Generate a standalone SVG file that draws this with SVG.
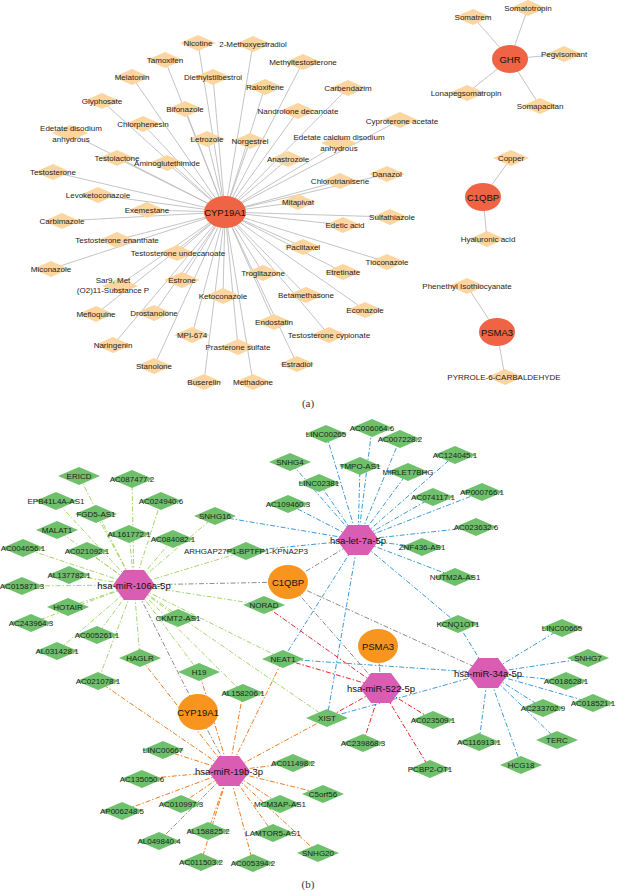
<svg xmlns="http://www.w3.org/2000/svg" width="618" height="893" viewBox="0 0 618 893">
<defs>
<style>
.ea{stroke:#BDBDBD;stroke-width:0.9}
.da{fill:#FDD59F}
.t{font-family:"Liberation Sans",Arial,sans-serif;font-size:8px;fill:#1e1e1e;text-anchor:middle;dominant-baseline:central}
.th{font-family:"Liberation Sans",Arial,sans-serif;font-size:9.5px;fill:#111;text-anchor:middle;dominant-baseline:central}
.hr{fill:#EE6445}
.eb line{stroke-width:1;fill:none;stroke-dasharray:5 2 1.5 2}
.g{stroke:#A5D86B}
.b{stroke:#3D9AD8}
.r{stroke:#E6242B}
.o{stroke:#F07C24}
.k{stroke:#8C8C8C}
.gd{fill:#6EC06B}
.hx{fill:#D95DB2}
.oe{fill:#F7951F}
.cap{font-family:"Liberation Serif","Times New Roman",serif;font-size:11px;fill:#333;text-anchor:middle}
</style>
<path id="da" d="M-18 0L0-8L18 0L0 8Z"/>
<path id="dg" d="M-21 0L0-9L21 0L0 9Z"/>
<path id="hex" d="M-21 0L-10-15L10-15L21 0L10 15L-10 15Z"/>
</defs>
<rect width="618" height="893" fill="#fff"/>

<!-- ===== Panel (a) connectors ===== -->
<g id="edges-a" class="ea">
<line x1="225" y1="212" x2="198" y2="43"/>
<line x1="225" y1="212" x2="253" y2="44"/>
<line x1="225" y1="212" x2="165" y2="60"/>
<line x1="225" y1="212" x2="303" y2="62"/>
<line x1="225" y1="212" x2="132" y2="77"/>
<line x1="225" y1="212" x2="213" y2="77"/>
<line x1="225" y1="212" x2="265" y2="87"/>
<line x1="225" y1="212" x2="348" y2="88"/>
<line x1="225" y1="212" x2="102" y2="101"/>
<line x1="225" y1="212" x2="185" y2="109"/>
<line x1="225" y1="212" x2="298" y2="111"/>
<line x1="225" y1="212" x2="400" y2="120"/>
<line x1="225" y1="212" x2="143" y2="124"/>
<line x1="225" y1="212" x2="70" y2="133"/>
<line x1="225" y1="212" x2="207" y2="139"/>
<line x1="225" y1="212" x2="250" y2="141"/>
<line x1="225" y1="212" x2="339" y2="143"/>
<line x1="225" y1="212" x2="117" y2="158"/>
<line x1="225" y1="212" x2="288" y2="159"/>
<line x1="225" y1="212" x2="167" y2="163"/>
<line x1="225" y1="212" x2="53" y2="172"/>
<line x1="225" y1="212" x2="387" y2="174"/>
<line x1="225" y1="212" x2="340" y2="181"/>
<line x1="225" y1="212" x2="98" y2="195"/>
<line x1="225" y1="212" x2="298" y2="202"/>
<line x1="225" y1="212" x2="147" y2="210"/>
<line x1="225" y1="212" x2="390" y2="217"/>
<line x1="225" y1="212" x2="62" y2="221"/>
<line x1="225" y1="212" x2="343" y2="225"/>
<line x1="225" y1="212" x2="117" y2="240"/>
<line x1="225" y1="212" x2="303" y2="247"/>
<line x1="225" y1="212" x2="177" y2="253"/>
<line x1="225" y1="212" x2="387" y2="262"/>
<line x1="225" y1="212" x2="51" y2="269"/>
<line x1="225" y1="212" x2="343" y2="272"/>
<line x1="225" y1="212" x2="263" y2="273"/>
<line x1="225" y1="212" x2="182" y2="280"/>
<line x1="225" y1="212" x2="118" y2="286"/>
<line x1="225" y1="212" x2="306" y2="295"/>
<line x1="225" y1="212" x2="223" y2="296"/>
<line x1="225" y1="212" x2="365" y2="310"/>
<line x1="225" y1="212" x2="154" y2="313"/>
<line x1="225" y1="212" x2="96" y2="314"/>
<line x1="225" y1="212" x2="274" y2="322"/>
<line x1="225" y1="212" x2="192" y2="335"/>
<line x1="225" y1="212" x2="329" y2="335"/>
<line x1="225" y1="212" x2="113" y2="345"/>
<line x1="225" y1="212" x2="238" y2="347"/>
<line x1="225" y1="212" x2="297" y2="364"/>
<line x1="225" y1="212" x2="154" y2="366"/>
<line x1="225" y1="212" x2="204" y2="382"/>
<line x1="225" y1="212" x2="253" y2="382"/>
<line x1="510" y1="59" x2="473" y2="17"/>
<line x1="510" y1="59" x2="528" y2="8"/>
<line x1="510" y1="59" x2="564" y2="54"/>
<line x1="510" y1="59" x2="467" y2="93"/>
<line x1="510" y1="59" x2="540" y2="106"/>
<line x1="483" y1="197" x2="511" y2="158"/>
<line x1="483" y1="197" x2="487" y2="239"/>
<line x1="497" y1="332" x2="467" y2="286"/>
<line x1="497" y1="332" x2="505" y2="377"/>
</g>

<!-- ===== Panel (a) nodes ===== -->
<g id="a-drugs">
<g id="a-Nicotine"><use href="#da" class="da" x="198" y="43"/><text class="t" x="198" y="43">Nicotine</text></g>
<g id="a-2-Methoxyestradiol"><use href="#da" class="da" x="253" y="44"/><text class="t" x="253" y="44">2-Methoxyestradiol</text></g>
<g id="a-Tamoxifen"><use href="#da" class="da" x="165" y="60"/><text class="t" x="165" y="60">Tamoxifen</text></g>
<g id="a-Methyltestosterone"><use href="#da" class="da" x="303" y="62"/><text class="t" x="303" y="62">Methyltestosterone</text></g>
<g id="a-Melatonin"><use href="#da" class="da" x="132" y="77"/><text class="t" x="132" y="77">Melatonin</text></g>
<g id="a-Diethylstilbestrol"><use href="#da" class="da" x="213" y="77"/><text class="t" x="213" y="77">Diethylstilbestrol</text></g>
<g id="a-Raloxifene"><use href="#da" class="da" x="265" y="87"/><text class="t" x="265" y="87">Raloxifene</text></g>
<g id="a-Carbendazim"><use href="#da" class="da" x="348" y="88"/><text class="t" x="348" y="88">Carbendazim</text></g>
<g id="a-Glyphosate"><use href="#da" class="da" x="102" y="101"/><text class="t" x="102" y="101">Glyphosate</text></g>
<g id="a-Bifonazole"><use href="#da" class="da" x="185" y="109"/><text class="t" x="185" y="109">Bifonazole</text></g>
<g id="a-Nandrolone"><use href="#da" class="da" x="298" y="111"/><text class="t" x="298" y="111">Nandrolone decanoate</text></g>
<g id="a-Cyproterone"><use href="#da" class="da" x="400" y="120"/><text class="t" x="402" y="121">Cyproterone acetate</text></g>
<g id="a-Chlorphenesin"><use href="#da" class="da" x="143" y="124"/><text class="t" x="143" y="124">Chlorphenesin</text></g>
<g id="a-EdetateDisodium"><use href="#da" class="da" x="70" y="133"/><text class="t" x="71" y="128">Edetate disodium</text><text class="t" x="71" y="139">anhydrous</text></g>
<g id="a-Letrozole"><use href="#da" class="da" x="207" y="139"/><text class="t" x="207" y="139">Letrozole</text></g>
<g id="a-Norgestrel"><use href="#da" class="da" x="250" y="141"/><text class="t" x="250" y="141">Norgestrel</text></g>
<g id="a-EdetateCalcium"><use href="#da" class="da" x="339" y="143"/><text class="t" x="339" y="137">Edetate calcium disodium</text><text class="t" x="339" y="148">anhydrous</text></g>
<g id="a-Testolactone"><use href="#da" class="da" x="117" y="158"/><text class="t" x="117" y="158">Testolactone</text></g>
<g id="a-Anastrozole"><use href="#da" class="da" x="288" y="159"/><text class="t" x="288" y="159">Anastrozole</text></g>
<g id="a-Aminoglutethimide"><use href="#da" class="da" x="167" y="163"/><text class="t" x="167" y="163">Aminoglutethimide</text></g>
<g id="a-Testosterone"><use href="#da" class="da" x="53" y="172"/><text class="t" x="53" y="172">Testosterone</text></g>
<g id="a-Danazol"><use href="#da" class="da" x="387" y="174"/><text class="t" x="387" y="174">Danazol</text></g>
<g id="a-Chlorotrianisene"><use href="#da" class="da" x="340" y="181"/><text class="t" x="340" y="181">Chlorotrianisene</text></g>
<g id="a-Levoketoconazole"><use href="#da" class="da" x="98" y="195"/><text class="t" x="98" y="195">Levoketoconazole</text></g>
<g id="a-Mitapivat"><use href="#da" class="da" x="298" y="202"/><text class="t" x="298" y="202">Mitapivat</text></g>
<g id="a-Exemestane"><use href="#da" class="da" x="147" y="210"/><text class="t" x="147" y="210">Exemestane</text></g>
<g id="a-Sulfathiazole"><use href="#da" class="da" x="390" y="217"/><text class="t" x="392" y="217">Sulfathiazole</text></g>
<g id="a-Carbimazole"><use href="#da" class="da" x="62" y="221"/><text class="t" x="62" y="221">Carbimazole</text></g>
<g id="a-EdeticAcid"><use href="#da" class="da" x="343" y="225"/><text class="t" x="345" y="225">Edetic acid</text></g>
<g id="a-TestosteroneEnanthate"><use href="#da" class="da" x="117" y="240"/><text class="t" x="117" y="240">Testosterone enanthate</text></g>
<g id="a-Paclitaxel"><use href="#da" class="da" x="303" y="247"/><text class="t" x="303" y="247">Paclitaxel</text></g>
<g id="a-TestosteroneUndecanoate"><use href="#da" class="da" x="177" y="253"/><text class="t" x="178" y="253">Testosterone undecanoate</text></g>
<g id="a-Tioconazole"><use href="#da" class="da" x="387" y="262"/><text class="t" x="387" y="262">Tioconazole</text></g>
<g id="a-Miconazole"><use href="#da" class="da" x="51" y="269"/><text class="t" x="51" y="269">Miconazole</text></g>
<g id="a-Etretinate"><use href="#da" class="da" x="343" y="272"/><text class="t" x="343" y="272">Etretinate</text></g>
<g id="a-Troglitazone"><use href="#da" class="da" x="263" y="273"/><text class="t" x="263" y="273">Troglitazone</text></g>
<g id="a-Estrone"><use href="#da" class="da" x="182" y="280"/><text class="t" x="182" y="280">Estrone</text></g>
<g id="a-Sar9"><use href="#da" class="da" x="120" y="286"/><text class="t" x="113" y="280">Sar9, Met</text><text class="t" x="113" y="290">(O2)11-Substance P</text></g>
<g id="a-Betamethasone"><use href="#da" class="da" x="306" y="295"/><text class="t" x="306" y="295">Betamethasone</text></g>
<g id="a-Ketoconazole"><use href="#da" class="da" x="223" y="296"/><text class="t" x="223" y="296">Ketoconazole</text></g>
<g id="a-Econazole"><use href="#da" class="da" x="365" y="310"/><text class="t" x="365" y="310">Econazole</text></g>
<g id="a-Drostanolone"><use href="#da" class="da" x="154" y="313"/><text class="t" x="154" y="313">Drostanolone</text></g>
<g id="a-Mefloquine"><use href="#da" class="da" x="96" y="314"/><text class="t" x="96" y="314">Mefloquine</text></g>
<g id="a-Endostatin"><use href="#da" class="da" x="274" y="322"/><text class="t" x="274" y="322">Endostatin</text></g>
<g id="a-MPI-674"><use href="#da" class="da" x="192" y="335"/><text class="t" x="192" y="335">MPI-674</text></g>
<g id="a-TestosteroneCypionate"><use href="#da" class="da" x="329" y="335"/><text class="t" x="329" y="335">Testosterone cypionate</text></g>
<g id="a-Naringenin"><use href="#da" class="da" x="113" y="345"/><text class="t" x="113" y="345">Naringenin</text></g>
<g id="a-Prasterone"><use href="#da" class="da" x="238" y="347"/><text class="t" x="238" y="347">Prasterone sulfate</text></g>
<g id="a-Estradiol"><use href="#da" class="da" x="297" y="364"/><text class="t" x="297" y="364">Estradiol</text></g>
<g id="a-Stanolone"><use href="#da" class="da" x="154" y="366"/><text class="t" x="154" y="366">Stanolone</text></g>
<g id="a-Buserelin"><use href="#da" class="da" x="204" y="382"/><text class="t" x="204" y="382">Buserelin</text></g>
<g id="a-Methadone"><use href="#da" class="da" x="253" y="382"/><text class="t" x="253" y="382">Methadone</text></g>
<g id="a-Somatrem"><use href="#da" class="da" x="473" y="17"/><text class="t" x="473" y="17">Somatrem</text></g>
<g id="a-Somatotropin"><use href="#da" class="da" x="528" y="8"/><text class="t" x="528" y="8">Somatotropin</text></g>
<g id="a-Pegvisomant"><use href="#da" class="da" x="564" y="54"/><text class="t" x="564" y="54">Pegvisomant</text></g>
<g id="a-Lonapegsomatropin"><use href="#da" class="da" x="467" y="93"/><text class="t" x="466" y="93">Lonapegsomatropin</text></g>
<g id="a-Somapacitan"><use href="#da" class="da" x="540" y="106"/><text class="t" x="540" y="106">Somapacitan</text></g>
<g id="a-Copper"><use href="#da" class="da" x="511" y="158"/><text class="t" x="511" y="158">Copper</text></g>
<g id="a-Hyaluronic"><use href="#da" class="da" x="487" y="239"/><text class="t" x="488" y="239">Hyaluronic acid</text></g>
<g id="a-Phenethyl"><use href="#da" class="da" x="467" y="286"/><text class="t" x="467" y="286">Phenethyl Isothiocyanate</text></g>
<g id="a-Pyrrole"><use href="#da" class="da" x="505" y="377"/><text class="t" x="504" y="377">PYRROLE-6-CARBALDEHYDE</text></g>
</g>
<g id="a-hubs">
<g id="a-CYP19A1"><ellipse class="hr" cx="225" cy="212" rx="21" ry="16"/><text class="th" x="225" y="212">CYP19A1</text></g>
<g id="a-GHR"><ellipse class="hr" cx="510" cy="59" rx="18" ry="14"/><text class="th" x="510" y="59">GHR</text></g>
<g id="a-C1QBP"><ellipse class="hr" cx="483" cy="197" rx="18" ry="14"/><text class="th" x="483" y="197">C1QBP</text></g>
<g id="a-PSMA3"><ellipse class="hr" cx="497" cy="332" rx="18" ry="14"/><text class="th" x="497" y="332">PSMA3</text></g>
</g>
<text class="cap" x="308" y="407">(a)</text>

<!-- ===== Panel (b) connectors ===== -->
<g id="edges-b" class="eb">
<g class="g">
<line x1="134" y1="585" x2="79" y2="476"/>
<line x1="134" y1="585" x2="132" y2="479"/>
<line x1="134" y1="585" x2="56" y2="501"/>
<line x1="134" y1="585" x2="161" y2="501"/>
<line x1="134" y1="585" x2="96" y2="514"/>
<line x1="134" y1="585" x2="57" y2="530"/>
<line x1="134" y1="585" x2="129" y2="534"/>
<line x1="134" y1="585" x2="173" y2="539"/>
<line x1="134" y1="585" x2="23" y2="548"/>
<line x1="134" y1="585" x2="87" y2="551"/>
<line x1="134" y1="585" x2="69" y2="575"/>
<line x1="134" y1="585" x2="22" y2="586"/>
<line x1="134" y1="585" x2="68" y2="607"/>
<line x1="134" y1="585" x2="31" y2="623"/>
<line x1="134" y1="585" x2="178" y2="618"/>
<line x1="134" y1="585" x2="97" y2="635"/>
<line x1="134" y1="585" x2="57" y2="651"/>
<line x1="134" y1="585" x2="140" y2="658"/>
<line x1="134" y1="585" x2="199" y2="672"/>
<line x1="134" y1="585" x2="98" y2="681"/>
<line x1="134" y1="585" x2="243" y2="693"/>
<line x1="134" y1="585" x2="215" y2="516"/>
<line x1="134" y1="585" x2="246" y2="551"/>
<line x1="134" y1="585" x2="264" y2="605"/>
<line x1="134" y1="585" x2="283" y2="659"/>
<line x1="134" y1="585" x2="327" y2="718"/>
</g>
<g class="b">
<line x1="358" y1="540" x2="326" y2="434"/>
<line x1="358" y1="540" x2="372" y2="428"/>
<line x1="358" y1="540" x2="400" y2="439"/>
<line x1="358" y1="540" x2="455" y2="455"/>
<line x1="358" y1="540" x2="290" y2="462"/>
<line x1="358" y1="540" x2="360" y2="466"/>
<line x1="358" y1="540" x2="408" y2="472"/>
<line x1="358" y1="540" x2="319" y2="483"/>
<line x1="358" y1="540" x2="433" y2="497"/>
<line x1="358" y1="540" x2="482" y2="492"/>
<line x1="358" y1="540" x2="288" y2="504"/>
<line x1="358" y1="540" x2="476" y2="527"/>
<line x1="358" y1="540" x2="422" y2="547"/>
<line x1="358" y1="540" x2="455" y2="577"/>
<line x1="358" y1="540" x2="458" y2="624"/>
<line x1="358" y1="540" x2="215" y2="516"/>
<line x1="358" y1="540" x2="246" y2="551"/>
<line x1="358" y1="540" x2="283" y2="659"/>
<line x1="358" y1="540" x2="327" y2="718"/>
<line x1="488" y1="673" x2="562" y2="628"/>
<line x1="488" y1="673" x2="588" y2="658"/>
<line x1="488" y1="673" x2="566" y2="681"/>
<line x1="488" y1="673" x2="593" y2="703"/>
<line x1="488" y1="673" x2="543" y2="708"/>
<line x1="488" y1="673" x2="557" y2="740"/>
<line x1="488" y1="673" x2="521" y2="765"/>
<line x1="488" y1="673" x2="479" y2="742"/>
<line x1="488" y1="673" x2="458" y2="624"/>
<line x1="488" y1="673" x2="283" y2="659"/>
<line x1="488" y1="673" x2="327" y2="718"/>
</g>
<g class="r">
<line x1="381" y1="688" x2="264" y2="605"/>
<line x1="381" y1="688" x2="283" y2="659"/>
<line x1="381" y1="688" x2="327" y2="718"/>
<line x1="381" y1="688" x2="363" y2="743"/>
<line x1="381" y1="688" x2="433" y2="720"/>
<line x1="381" y1="688" x2="430" y2="769"/>
</g>
<g class="o">
<line x1="229" y1="771" x2="98" y2="681"/>
<line x1="229" y1="771" x2="140" y2="658"/>
<line x1="229" y1="771" x2="199" y2="672"/>
<line x1="229" y1="771" x2="243" y2="693"/>
<line x1="229" y1="771" x2="283" y2="659"/>
<line x1="229" y1="771" x2="327" y2="718"/>
<line x1="229" y1="771" x2="163" y2="750"/>
<line x1="229" y1="771" x2="142" y2="779"/>
<line x1="229" y1="771" x2="122" y2="811"/>
<line x1="229" y1="771" x2="181" y2="804"/>
<line x1="229" y1="771" x2="159" y2="841"/>
<line x1="229" y1="771" x2="208" y2="831"/>
<line x1="229" y1="771" x2="201" y2="862"/>
<line x1="229" y1="771" x2="253" y2="863"/>
<line x1="229" y1="771" x2="273" y2="833"/>
<line x1="229" y1="771" x2="318" y2="853"/>
<line x1="229" y1="771" x2="280" y2="804"/>
<line x1="229" y1="771" x2="323" y2="794"/>
<line x1="229" y1="771" x2="293" y2="763"/>
</g>
<g class="k">
<line x1="288" y1="582" x2="134" y2="585"/>
<line x1="288" y1="582" x2="358" y2="540"/>
<line x1="288" y1="582" x2="381" y2="688"/>
<line x1="288" y1="582" x2="488" y2="673"/>
<line x1="378" y1="646" x2="381" y2="688"/>
<line x1="198" y1="712" x2="134" y2="585"/>
<line x1="198" y1="712" x2="229" y2="771"/>
</g>
</g>

<!-- ===== Panel (b) lncRNA nodes ===== -->
<g id="b-lnc">
<g id="b-ERICD"><use href="#dg" class="gd" x="79" y="476"/><text class="t" x="79" y="476">ERICD</text></g>
<g id="b-AC087477.2"><use href="#dg" class="gd" x="132" y="479"/><text class="t" x="132" y="479">AC087477.2</text></g>
<g id="b-EPB41L4A-AS1"><use href="#dg" class="gd" x="56" y="501"/><text class="t" x="56" y="501">EPB41L4A-AS1</text></g>
<g id="b-AC024940.6"><use href="#dg" class="gd" x="161" y="501"/><text class="t" x="161" y="501">AC024940.6</text></g>
<g id="b-FGD5-AS1"><use href="#dg" class="gd" x="96" y="514"/><text class="t" x="96" y="514">FGD5-AS1</text></g>
<g id="b-MALAT1"><use href="#dg" class="gd" x="57" y="530"/><text class="t" x="57" y="530">MALAT1</text></g>
<g id="b-AL161772.1"><use href="#dg" class="gd" x="129" y="534"/><text class="t" x="129" y="534">AL161772.1</text></g>
<g id="b-AC084082.1"><use href="#dg" class="gd" x="173" y="539"/><text class="t" x="173" y="539">AC084082.1</text></g>
<g id="b-AC004656.1"><use href="#dg" class="gd" x="23" y="548"/><text class="t" x="23" y="548">AC004656.1</text></g>
<g id="b-AC021092.1"><use href="#dg" class="gd" x="87" y="551"/><text class="t" x="87" y="551">AC021092.1</text></g>
<g id="b-AL137782.1"><use href="#dg" class="gd" x="69" y="575"/><text class="t" x="69" y="575">AL137782.1</text></g>
<g id="b-AC015871.3"><use href="#dg" class="gd" x="22" y="586"/><text class="t" x="22" y="586">AC015871.3</text></g>
<g id="b-HOTAIR"><use href="#dg" class="gd" x="68" y="607"/><text class="t" x="68" y="607">HOTAIR</text></g>
<g id="b-AC243964.3"><use href="#dg" class="gd" x="31" y="623"/><text class="t" x="31" y="623">AC243964.3</text></g>
<g id="b-CKMT2-AS1"><use href="#dg" class="gd" x="178" y="618"/><text class="t" x="178" y="618">CKMT2-AS1</text></g>
<g id="b-AC005261.1"><use href="#dg" class="gd" x="97" y="635"/><text class="t" x="97" y="635">AC005261.1</text></g>
<g id="b-AL031428.1"><use href="#dg" class="gd" x="57" y="651"/><text class="t" x="57" y="651">AL031428.1</text></g>
<g id="b-HAGLR"><use href="#dg" class="gd" x="140" y="658"/><text class="t" x="140" y="658">HAGLR</text></g>
<g id="b-H19"><use href="#dg" class="gd" x="199" y="672"/><text class="t" x="199" y="672">H19</text></g>
<g id="b-AC021078.1"><use href="#dg" class="gd" x="98" y="681"/><text class="t" x="98" y="681">AC021078.1</text></g>
<g id="b-AL158206.1"><use href="#dg" class="gd" x="243" y="693"/><text class="t" x="243" y="693">AL158206.1</text></g>
<g id="b-SNHG16"><use href="#dg" class="gd" x="215" y="516"/><text class="t" x="215" y="516">SNHG16</text></g>
<g id="b-ARHGAP27P1"><use href="#dg" class="gd" x="246" y="551"/><text class="t" x="246" y="551">ARHGAP27P1-BPTFP1-KPNA2P3</text></g>
<g id="b-NORAD"><use href="#dg" class="gd" x="264" y="605"/><text class="t" x="264" y="605">NORAD</text></g>
<g id="b-NEAT1"><use href="#dg" class="gd" x="283" y="659"/><text class="t" x="283" y="659">NEAT1</text></g>
<g id="b-XIST"><use href="#dg" class="gd" x="327" y="718"/><text class="t" x="327" y="718">XIST</text></g>
<g id="b-AC239868.3"><use href="#dg" class="gd" x="363" y="743"/><text class="t" x="363" y="743">AC239868.3</text></g>
<g id="b-AC023509.1"><use href="#dg" class="gd" x="433" y="720"/><text class="t" x="433" y="720">AC023509.1</text></g>
<g id="b-PCBP2-OT1"><use href="#dg" class="gd" x="430" y="769"/><text class="t" x="430" y="769">PCBP2-OT1</text></g>
<g id="b-LINC00265"><use href="#dg" class="gd" x="326" y="434"/><text class="t" x="326" y="434">LINC00265</text></g>
<g id="b-AC006064.6"><use href="#dg" class="gd" x="372" y="428"/><text class="t" x="372" y="428">AC006064.6</text></g>
<g id="b-AC007228.2"><use href="#dg" class="gd" x="400" y="439"/><text class="t" x="400" y="439">AC007228.2</text></g>
<g id="b-AC124045.1"><use href="#dg" class="gd" x="455" y="455"/><text class="t" x="455" y="455">AC124045.1</text></g>
<g id="b-SNHG4"><use href="#dg" class="gd" x="290" y="462"/><text class="t" x="290" y="462">SNHG4</text></g>
<g id="b-TMPO-AS1"><use href="#dg" class="gd" x="360" y="466"/><text class="t" x="360" y="466">TMPO-AS1</text></g>
<g id="b-MIRLET7BHG"><use href="#dg" class="gd" x="408" y="472"/><text class="t" x="408" y="472">MIRLET7BHG</text></g>
<g id="b-LINC02381"><use href="#dg" class="gd" x="319" y="483"/><text class="t" x="319" y="483">LINC02381</text></g>
<g id="b-AC074117.1"><use href="#dg" class="gd" x="433" y="497"/><text class="t" x="433" y="497">AC074117.1</text></g>
<g id="b-AP000766.1"><use href="#dg" class="gd" x="482" y="492"/><text class="t" x="482" y="492">AP000766.1</text></g>
<g id="b-AC109460.3"><use href="#dg" class="gd" x="288" y="504"/><text class="t" x="288" y="504">AC109460.3</text></g>
<g id="b-AC023632.6"><use href="#dg" class="gd" x="476" y="527"/><text class="t" x="476" y="527">AC023632.6</text></g>
<g id="b-ZNF436-AS1"><use href="#dg" class="gd" x="422" y="547"/><text class="t" x="422" y="547">ZNF436-AS1</text></g>
<g id="b-NUTM2A-AS1"><use href="#dg" class="gd" x="455" y="577"/><text class="t" x="455" y="577">NUTM2A-AS1</text></g>
<g id="b-KCNQ1OT1"><use href="#dg" class="gd" x="458" y="624"/><text class="t" x="458" y="624">KCNQ1OT1</text></g>
<g id="b-LINC00665"><use href="#dg" class="gd" x="562" y="628"/><text class="t" x="562" y="628">LINC00665</text></g>
<g id="b-SNHG7"><use href="#dg" class="gd" x="588" y="658"/><text class="t" x="588" y="658">SNHG7</text></g>
<g id="b-AC018628.1"><use href="#dg" class="gd" x="566" y="681"/><text class="t" x="566" y="681">AC018628.1</text></g>
<g id="b-AC018521.1"><use href="#dg" class="gd" x="593" y="703"/><text class="t" x="593" y="703">AC018521.1</text></g>
<g id="b-AC233702.9"><use href="#dg" class="gd" x="543" y="708"/><text class="t" x="543" y="708">AC233702.9</text></g>
<g id="b-TERC"><use href="#dg" class="gd" x="557" y="740"/><text class="t" x="557" y="740">TERC</text></g>
<g id="b-HCG18"><use href="#dg" class="gd" x="521" y="765"/><text class="t" x="521" y="765">HCG18</text></g>
<g id="b-AC116913.1"><use href="#dg" class="gd" x="479" y="742"/><text class="t" x="479" y="742">AC116913.1</text></g>
<g id="b-LINC00667"><use href="#dg" class="gd" x="163" y="750"/><text class="t" x="163" y="750">LINC00667</text></g>
<g id="b-AC135050.6"><use href="#dg" class="gd" x="142" y="779"/><text class="t" x="142" y="779">AC135050.6</text></g>
<g id="b-AP006248.5"><use href="#dg" class="gd" x="122" y="811"/><text class="t" x="122" y="811">AP006248.5</text></g>
<g id="b-AC010997.3"><use href="#dg" class="gd" x="181" y="804"/><text class="t" x="181" y="804">AC010997.3</text></g>
<g id="b-AL049840.4"><use href="#dg" class="gd" x="159" y="841"/><text class="t" x="159" y="841">AL049840.4</text></g>
<g id="b-AL158825.2"><use href="#dg" class="gd" x="208" y="831"/><text class="t" x="208" y="831">AL158825.2</text></g>
<g id="b-AC011503.2"><use href="#dg" class="gd" x="201" y="862"/><text class="t" x="201" y="862">AC011503.2</text></g>
<g id="b-AC005394.2"><use href="#dg" class="gd" x="253" y="863"/><text class="t" x="253" y="863">AC005394.2</text></g>
<g id="b-LAMTOR5-AS1"><use href="#dg" class="gd" x="273" y="833"/><text class="t" x="273" y="833">LAMTOR5-AS1</text></g>
<g id="b-SNHG20"><use href="#dg" class="gd" x="318" y="853"/><text class="t" x="318" y="853">SNHG20</text></g>
<g id="b-MCM3AP-AS1"><use href="#dg" class="gd" x="280" y="804"/><text class="t" x="280" y="804">MCM3AP-AS1</text></g>
<g id="b-C5orf56"><use href="#dg" class="gd" x="323" y="794"/><text class="t" x="323" y="794">C5orf56</text></g>
<g id="b-AC011498.2"><use href="#dg" class="gd" x="293" y="763"/><text class="t" x="293" y="763">AC011498.2</text></g>
</g>

<!-- ===== Panel (b) genes and miRNAs ===== -->
<g id="b-genes">
<g id="b-C1QBP"><ellipse class="oe" cx="288" cy="582" rx="20" ry="17"/><text class="th" x="288" y="582">C1QBP</text></g>
<g id="b-PSMA3"><ellipse class="oe" cx="378" cy="646" rx="20" ry="17"/><text class="th" x="378" y="646">PSMA3</text></g>
<g id="b-CYP19A1"><ellipse class="oe" cx="198" cy="712" rx="20" ry="18"/><text class="th" x="198" y="712">CYP19A1</text></g>
</g>
<g id="b-mirna">
<g id="b-miR-106a"><use href="#hex" class="hx" x="134" y="585"/><text class="th" x="134" y="585">hsa-miR-106a-5p</text></g>
<g id="b-let-7a"><use href="#hex" class="hx" x="358" y="540"/><text class="th" x="358" y="540">hsa-let-7a-5p</text></g>
<g id="b-miR-522"><use href="#hex" class="hx" x="381" y="688"/><text class="th" x="381" y="688">hsa-miR-522-5p</text></g>
<g id="b-miR-34a"><use href="#hex" class="hx" x="488" y="673"/><text class="th" x="488" y="673">hsa-miR-34a-5p</text></g>
<g id="b-miR-19b"><use href="#hex" class="hx" x="229" y="771"/><text class="th" x="229" y="771">hsa-miR-19b-3p</text></g>
</g>
<text class="cap" x="308" y="888">(b)</text>
</svg>
